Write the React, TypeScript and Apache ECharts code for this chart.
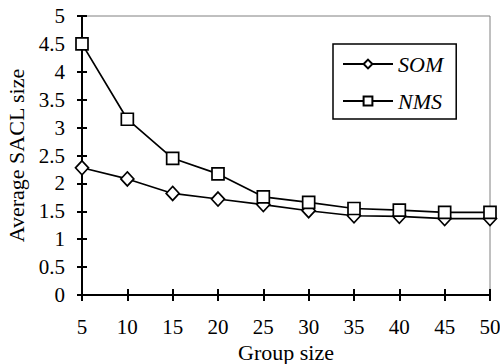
import React, { useEffect, useRef } from "react";
import * as echarts from "echarts";

const groupSizes = [5, 10, 15, 20, 25, 30, 35, 40, 45, 50];
const somValues = [2.28, 2.08, 1.82, 1.72, 1.62, 1.51, 1.42, 1.41, 1.37, 1.37];
const nmsValues = [4.5, 3.15, 2.45, 2.17, 1.76, 1.66, 1.55, 1.52, 1.48, 1.48];
const seriesNames = ["SOM", "NMS"];

const FONT = "Liberation Serif";

export default function App() {
  const ref = useRef<HTMLDivElement>(null);
  useEffect(() => {
    if (!ref.current) return;
    const chart = echarts.init(ref.current, null, { renderer: "svg" });
    const axisLine = { show: true, lineStyle: { color: "#000", width: 2 } };
    chart.setOption({
      animation: false,
      backgroundColor: "#fff",
      textStyle: { fontFamily: FONT },
      grid: {
        left: 82,
        right: 10,
        top: 16,
        bottom: 69,
        show: true,
        borderColor: "#808080",
        borderWidth: 1,
        containLabel: false,
        outerBoundsMode: "none",
      },
      legend: {
        orient: "vertical",
        left: 333,
        top: 44,
        data: seriesNames,
        itemWidth: 50,
        itemHeight: 11,
        itemGap: 15,
        padding: [9, 13, 7, 9],
        borderColor: "#000",
        borderWidth: 1.5,
        backgroundColor: "#fff",
        textStyle: {
          fontFamily: FONT,
          fontStyle: "italic",
          fontSize: 22,
          color: "#000",
          lineHeight: 22,
        },
      },
      xAxis: [
        {
          type: "value",
          min: 5,
          max: 50,
          interval: 5,
          name: "Group size",
          nameLocation: "middle",
          nameGap: 40,
          nameTextStyle: { fontFamily: FONT, fontSize: 22, color: "#000" },
          axisLine,
          axisTick: { show: true, inside: false, length: 6, lineStyle: { color: "#000", width: 2 } },
          axisLabel: { fontFamily: FONT, fontSize: 21, color: "#000", margin: 21 },
          splitLine: { show: false },
        },
        {
          type: "value",
          min: 5,
          max: 50,
          interval: 5,
          position: "bottom",
          axisLine: { show: false },
          axisTick: { show: true, inside: true, length: 6, lineStyle: { color: "#000", width: 2 } },
          axisLabel: { show: false },
          splitLine: { show: false },
        },
      ],
      yAxis: [
        {
          type: "value",
          min: 0,
          max: 5,
          interval: 0.5,
          name: "Average SACL size",
          nameLocation: "middle",
          nameGap: 53,
          nameTextStyle: { fontFamily: FONT, fontSize: 22, color: "#000" },
          axisLine,
          axisTick: { show: true, inside: false, length: 5, lineStyle: { color: "#000", width: 2 } },
          axisLabel: { fontFamily: FONT, fontSize: 21, color: "#000", margin: 17 },
          splitLine: { show: false },
        },
        {
          type: "value",
          min: 0,
          max: 5,
          interval: 0.5,
          position: "left",
          axisLine: { show: false },
          axisTick: { show: true, inside: true, length: 5, lineStyle: { color: "#000", width: 2 } },
          axisLabel: { show: false },
          splitLine: { show: false },
        },
      ],
      series: [
        {
          name: seriesNames[0],
          type: "line",
          data: groupSizes.map((g, i) => [g, somValues[i]]),
          symbol: "diamond",
          symbolSize: [13, 14],
          lineStyle: { color: "#000", width: 1.7 },
          itemStyle: { color: "#fff", borderColor: "#000", borderWidth: 1.7 },
          z: 3,
        },
        {
          name: seriesNames[1],
          type: "line",
          data: groupSizes.map((g, i) => [g, nmsValues[i]]),
          symbol: "rect",
          symbolSize: 12,
          lineStyle: { color: "#000", width: 1.7 },
          itemStyle: { color: "#fff", borderColor: "#000", borderWidth: 1.7 },
          z: 4,
        },
      ],
    });
    return () => chart.dispose();
  }, []);
  return <div ref={ref} style={{ width: 500, height: 364, position: "absolute", left: 0, top: 0 }} />;
}
